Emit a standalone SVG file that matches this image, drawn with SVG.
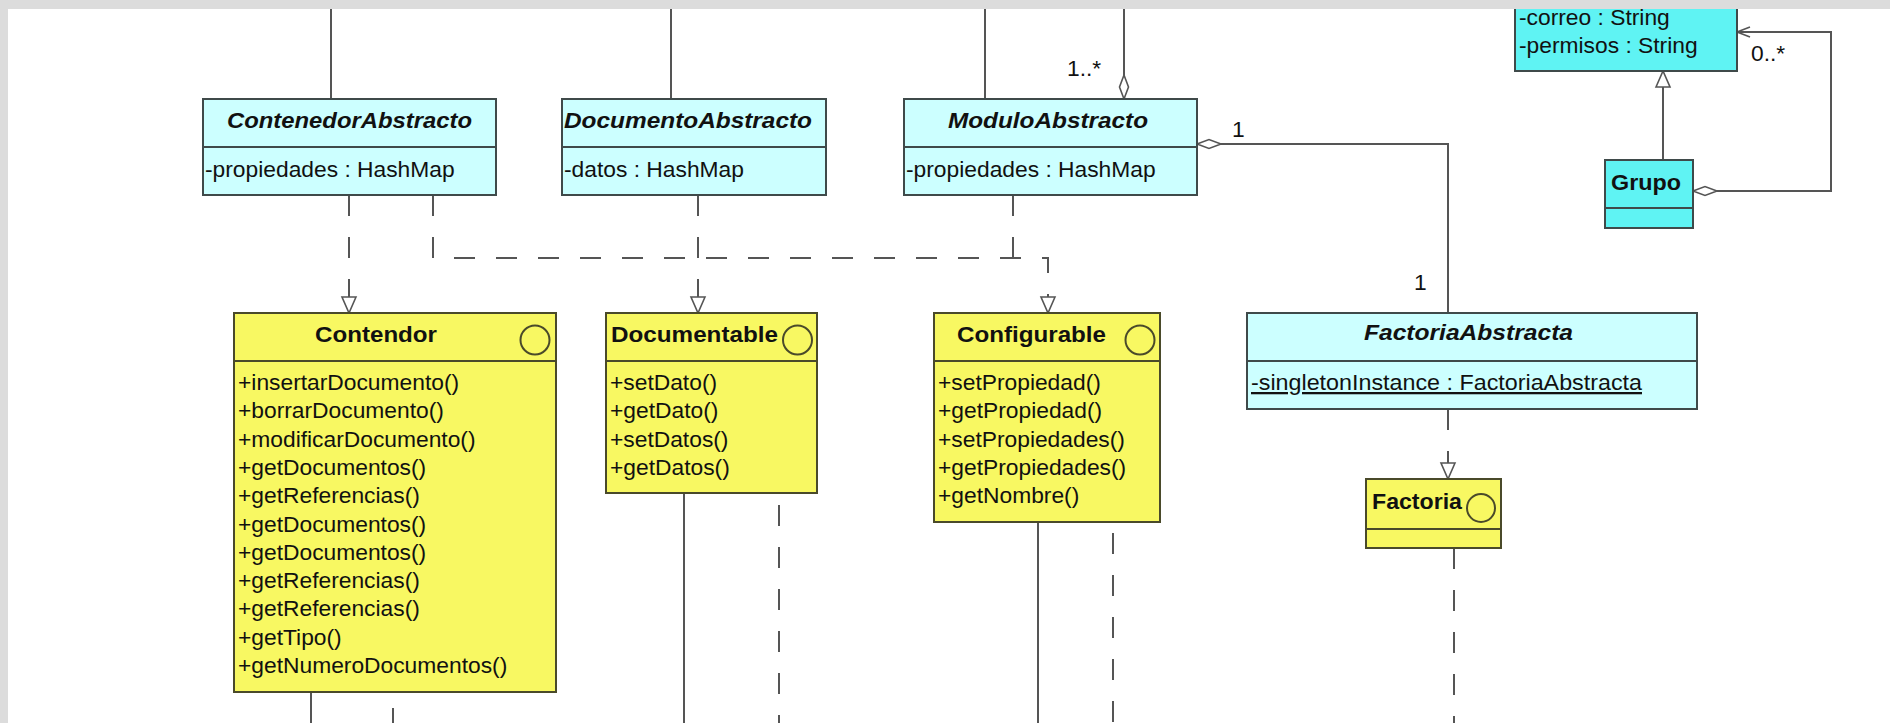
<svg xmlns="http://www.w3.org/2000/svg" width="1890" height="723" viewBox="0 0 1890 723">
<style>
.lc{fill:#ccffff;stroke:#3f4a4a;stroke-width:2}
.bc{fill:#5ff3f3;stroke:#3f4a4a;stroke-width:2}
.yl{fill:#f8f862;stroke:#4a4a2a;stroke-width:2}
.dv{stroke:#3f4a4a;stroke-width:2;fill:none}
.dvy{stroke:#4a4a2a;stroke-width:2;fill:none}
.ic{fill:none;stroke:#4a4a2a;stroke-width:2}
text{font-family:"Liberation Sans",Arial,sans-serif;fill:#111}
.t{font-size:22.8px}
.h{font-size:22px;font-weight:bold}
.hi{font-size:22px;font-weight:bold;font-style:italic}
.ln{stroke:#555;stroke-width:2;fill:none}
.ds{stroke:#555;stroke-width:2;fill:none;stroke-dasharray:21 21}
</style>
<defs>
<marker id="tri" markerUnits="userSpaceOnUse" markerWidth="20" markerHeight="18" refX="16" refY="7" orient="auto" overflow="visible">
<path d="M0,0 L16,7 L0,14 z" fill="#fff" stroke="#555" stroke-width="1.6" stroke-dasharray="none"/>
</marker>
<marker id="dia" markerUnits="userSpaceOnUse" markerWidth="26" markerHeight="12" refX="0" refY="4.5" orient="auto" overflow="visible">
<path d="M0,4.5 L12,0 L24,4.5 L12,9 z" fill="#fff" stroke="#555" stroke-width="1.6"/>
</marker>
<marker id="opn" markerUnits="userSpaceOnUse" markerWidth="16" markerHeight="12" refX="13" refY="5" orient="auto" overflow="visible">
<path d="M0,0 L13,5 L0,10" fill="none" stroke="#555" stroke-width="1.6"/>
</marker>
</defs>
<rect x="0" y="0" width="1890" height="723" fill="#fff"/>

<g id="connectors">
<path class="ln" d="M331,0 V99"/>
<path class="ln" d="M671,0 V99"/>
<path class="ln" d="M985,0 V99"/>
<path class="ln" d="M1124,99 V0" marker-start="url(#dia)"/>
<path class="ln" d="M1197,144 H1448 V313" marker-start="url(#dia)"/>
<path class="ds" d="M349,195 V313" marker-end="url(#tri)"/>
<path class="ds" d="M433,195 V258 H1048 V313" marker-end="url(#tri)"/>
<path class="ds" d="M698,195 V313" marker-end="url(#tri)"/>
<path class="ds" d="M1013,195 V258"/>
<path class="ds" d="M1448,409 V479" marker-end="url(#tri)"/>
<path class="ln" d="M1663,160 V71" marker-end="url(#tri)"/>
<path class="ln" d="M1693,191 H1831 V32 H1737" marker-start="url(#dia)" marker-end="url(#opn)"/>
<path class="ln" d="M311,692 V723"/>
<path class="ds" d="M393,708 V723"/>
<path class="ln" d="M684,493 V723"/>
<path class="ds" d="M779,493 V723" stroke-dashoffset="-12"/>
<path class="ln" d="M1038,522 V723"/>
<path class="ds" d="M1113,533 V723"/>
<path class="ds" d="M1454,548 V723"/>
<text class="t" x="1067" y="76">1..*</text>
<text class="t" x="1232" y="137">1</text>
<text class="t" x="1414" y="290">1</text>
<text class="t" x="1751" y="61">0..*</text>
</g>

<g id="ContenedorAbstracto">
<rect class="lc" x="203" y="99" width="293" height="96"/>
<line class="dv" x1="203" y1="147" x2="496" y2="147"/>
<text class="hi" x="227" y="128" textLength="245" lengthAdjust="spacingAndGlyphs">ContenedorAbstracto</text>
<text class="t" x="205" y="177">-propiedades : HashMap</text>
</g>

<g id="DocumentoAbstracto">
<rect class="lc" x="562" y="99" width="264" height="96"/>
<line class="dv" x1="562" y1="147" x2="826" y2="147"/>
<text class="hi" x="564" y="128" textLength="248" lengthAdjust="spacingAndGlyphs">DocumentoAbstracto</text>
<text class="t" x="564" y="177">-datos : HashMap</text>
</g>

<g id="ModuloAbstracto">
<rect class="lc" x="904" y="99" width="293" height="96"/>
<line class="dv" x1="904" y1="147" x2="1197" y2="147"/>
<text class="hi" x="948" y="128" textLength="200" lengthAdjust="spacingAndGlyphs">ModuloAbstracto</text>
<text class="t" x="906" y="177">-propiedades : HashMap</text>
</g>

<g id="Usuario">
<rect class="bc" x="1515" y="-20" width="222" height="91"/>
<text class="t" x="1519" y="25">-correo : String</text>
<text class="t" x="1519" y="53">-permisos : String</text>
</g>

<g id="Grupo">
<rect class="bc" x="1605" y="160" width="88" height="68"/>
<line class="dv" x1="1605" y1="208" x2="1693" y2="208"/>
<text class="h" x="1611" y="190" textLength="70" lengthAdjust="spacingAndGlyphs">Grupo</text>
</g>

<g id="Contendor">
<rect class="yl" x="234" y="313" width="322" height="379"/>
<line class="dvy" x1="234" y1="361" x2="556" y2="361"/>
<text class="h" x="315" y="342" textLength="122" lengthAdjust="spacingAndGlyphs">Contendor</text>
<circle class="ic" cx="535" cy="340" r="14.5"/>
<text class="t">
<tspan x="238" y="390">+insertarDocumento()</tspan>
<tspan x="238" y="418.3">+borrarDocumento()</tspan>
<tspan x="238" y="446.6">+modificarDocumento()</tspan>
<tspan x="238" y="474.9">+getDocumentos()</tspan>
<tspan x="238" y="503.2">+getReferencias()</tspan>
<tspan x="238" y="531.5">+getDocumentos()</tspan>
<tspan x="238" y="559.8">+getDocumentos()</tspan>
<tspan x="238" y="588.1">+getReferencias()</tspan>
<tspan x="238" y="616.4">+getReferencias()</tspan>
<tspan x="238" y="644.7">+getTipo()</tspan>
<tspan x="238" y="673">+getNumeroDocumentos()</tspan>
</text>
</g>

<g id="Documentable">
<rect class="yl" x="606" y="313" width="211" height="180"/>
<line class="dvy" x1="606" y1="361" x2="817" y2="361"/>
<text class="h" x="611" y="342" textLength="167" lengthAdjust="spacingAndGlyphs">Documentable</text>
<circle class="ic" cx="797.5" cy="340" r="14.5"/>
<text class="t">
<tspan x="610" y="390">+setDato()</tspan>
<tspan x="610" y="418.3">+getDato()</tspan>
<tspan x="610" y="446.6">+setDatos()</tspan>
<tspan x="610" y="474.9">+getDatos()</tspan>
</text>
</g>

<g id="Configurable">
<rect class="yl" x="934" y="313" width="226" height="209"/>
<line class="dvy" x1="934" y1="361" x2="1160" y2="361"/>
<text class="h" x="957" y="342" textLength="149" lengthAdjust="spacingAndGlyphs">Configurable</text>
<circle class="ic" cx="1140" cy="340" r="14.5"/>
<text class="t">
<tspan x="938" y="390">+setPropiedad()</tspan>
<tspan x="938" y="418.3">+getPropiedad()</tspan>
<tspan x="938" y="446.6">+setPropiedades()</tspan>
<tspan x="938" y="474.9">+getPropiedades()</tspan>
<tspan x="938" y="503.2">+getNombre()</tspan>
</text>
</g>

<g id="FactoriaAbstracta">
<rect class="lc" x="1247" y="313" width="450" height="96"/>
<line class="dv" x1="1247" y1="361" x2="1697" y2="361"/>
<text class="hi" x="1364" y="340" textLength="209" lengthAdjust="spacingAndGlyphs">FactoriaAbstracta</text>
<text class="t" x="1251" y="390" text-decoration="underline" textLength="391" lengthAdjust="spacingAndGlyphs">-singletonInstance : FactoriaAbstracta</text>
</g>

<g id="Factoria">
<rect class="yl" x="1366" y="479" width="135" height="69"/>
<line class="dvy" x1="1366" y1="529" x2="1501" y2="529"/>
<text class="h" x="1372" y="509" textLength="90" lengthAdjust="spacingAndGlyphs">Factoria</text>
<circle class="ic" cx="1481" cy="508" r="14"/>
</g>

<g id="frame">
<rect x="0" y="0" width="1890" height="9" fill="#dcdcdc"/>
<rect x="0" y="0" width="8" height="723" fill="#dcdcdc"/>
</g>
</svg>
